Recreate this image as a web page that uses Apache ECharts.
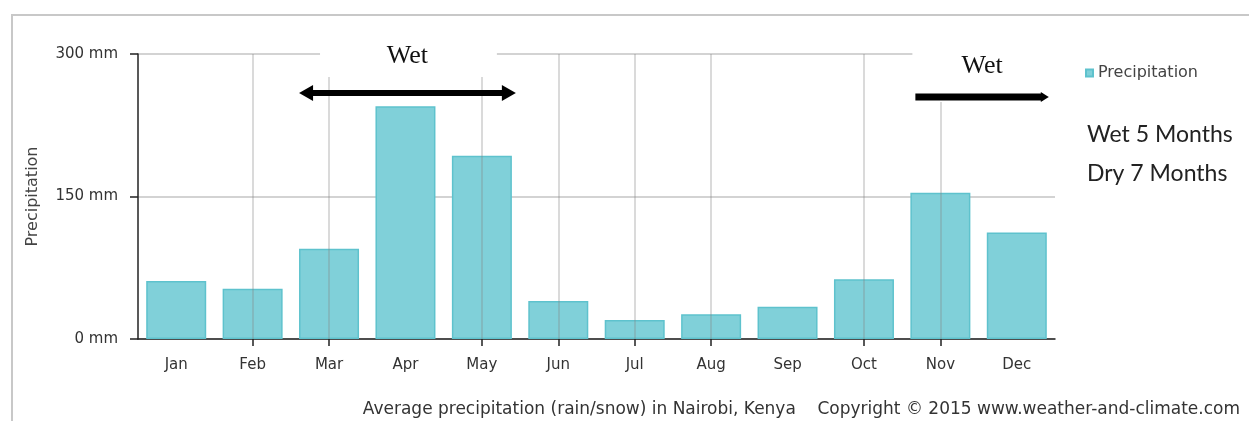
<!DOCTYPE html>
<html>
<head>
<meta charset="utf-8">
<script src="https://cdn.jsdelivr.net/npm/echarts@6/dist/echarts.min.js"></script>
<style>
  html, body { margin: 0; padding: 0; background: #fff; }
  #plot { width: 1249px; height: 421px; }
</style>
</head>
<body>
<div id="plot"></div>
<script>
"use strict";

// Monthly precipitation for Nairobi.
var months = ['Jan', 'Feb', 'Mar', 'Apr', 'May', 'Jun', 'Jul', 'Aug', 'Sep', 'Oct', 'Nov', 'Dec'];
var precipitation = [61, 53, 95, 245, 193, 40, 20, 26, 34, 63, 154, 112];
var yTicks = [0, 150, 300];
// Months that carry a tick and a vertical grid line in the original.
var tickedMonths = ['Feb', 'Mar', 'May', 'Jun', 'Jul', 'Aug', 'Oct', 'Nov'];
var wetSpans = [['Mar', 'May'], ['Nov', 'Dec']];

var chart = echarts.init(document.getElementById('plot'));

function hasTick(index, value) {
  return tickedMonths.indexOf(months[index]) >= 0;
}

var option = {
  backgroundColor: '#fff',
  animation: false,
  textStyle: { fontFamily: 'DejaVu Sans' },
  grid: { left: 138, right: 194, top: 54, bottom: 82 },
  legend: {
    left: 1080, top: 60,
    icon: 'rect', itemWidth: 7, itemHeight: 7, itemGap: 8,
    textStyle: { color: '#444', fontSize: 16 },
    data: ['Precipitation']
  },
  xAxis: {
    type: 'category',
    data: months,
    axisLine: { lineStyle: { color: '#222', width: 1.5 } },
    axisTick: { show: true, alignWithLabel: true, interval: hasTick, length: 7, lineStyle: { color: '#222', width: 1.5 } },
    axisLabel: { interval: 0, color: '#333', fontSize: 15, margin: 19 },
    splitLine: { show: false }
  },
  yAxis: {
    type: 'value',
    min: yTicks[0], max: yTicks[yTicks.length - 1], interval: 150,
    name: 'Precipitation',
    nameLocation: 'middle', nameGap: 97, nameRotate: 90,
    nameTextStyle: { color: '#444', fontSize: 16 },
    axisLine: { show: true, lineStyle: { color: '#222', width: 1.5 } },
    axisTick: { show: true, length: 8, lineStyle: { color: '#222', width: 1.5 } },
    axisLabel: { color: '#333', fontSize: 15, margin: 20, formatter: '{value} mm' },
    splitLine: { show: true, lineStyle: { color: '#c4c4c4', width: 1.5 } }
  },
  series: [{
    name: 'Precipitation',
    type: 'bar',
    barWidth: 60,
    data: precipitation,
    itemStyle: { color: '#80d0d9', borderColor: '#5ec2cd', borderWidth: 1.5 },
    // vertical grid lines through the centre of the ticked months
    markLine: {
      silent: true,
      symbol: 'none',
      label: { show: false },
      lineStyle: { type: 'solid', color: 'rgba(130,130,130,0.4)', width: 1.5 },
      data: tickedMonths.map(function (m) { return { xAxis: m }; })
    }
  }]
};
chart.setOption(option);

// Annotations placed from the axis positions of the wet months.
var half = 30;
function px(month) { return chart.convertToPixel({ xAxisIndex: 0 }, month); }
var yTop = chart.convertToPixel({ yAxisIndex: 0 }, 300);

var x1a = px(wetSpans[0][0]) - half, x1b = px(wetSpans[0][1]) + half + 4;
var x2a = px(wetSpans[1][0]) - half + 5, x2b = px(wetSpans[1][1]) + half + 2;

var graphics = [
  // outer frame of the picture
  { type: 'rect', shape: { x: 12, y: 15, width: 1300, height: 500 }, style: { fill: 'none', stroke: '#c8c8c8', lineWidth: 2 }, z: 1 },
  // white patches behind the "Wet" labels
  { type: 'rect', shape: { x: x1a + 21, y: yTop - 20, width: x1b - x1a - 40, height: 43 }, style: { fill: '#fff' }, z: 10 },
  { type: 'rect', shape: { x: x2a - 3, y: yTop - 20, width: x2b - x2a + 20, height: 68 }, style: { fill: '#fff' }, z: 10 },
  { type: 'text', style: { x: (x1a + x1b) / 2, y: yTop + 2, text: 'Wet', fill: '#111', font: '26px "Liberation Serif"', align: 'center', verticalAlign: 'middle' }, z: 11 },
  { type: 'text', style: { x: (x2a + x2b) / 2, y: yTop + 12, text: 'Wet', fill: '#111', font: '26px "Liberation Serif"', align: 'center', verticalAlign: 'middle' }, z: 11 },
  // left double arrow
  { type: 'line', shape: { x1: x1a + 8, y1: yTop + 39, x2: x1b - 8, y2: yTop + 39 }, style: { stroke: '#000', lineWidth: 6 }, z: 11 },
  { type: 'polygon', shape: { points: [[x1a, yTop + 39], [x1a + 14, yTop + 31], [x1a + 14, yTop + 47]] }, style: { fill: '#000' }, z: 11 },
  { type: 'polygon', shape: { points: [[x1b, yTop + 39], [x1b - 14, yTop + 31], [x1b - 14, yTop + 47]] }, style: { fill: '#000' }, z: 11 },
  // right bar with a small head
  { type: 'line', shape: { x1: x2a, y1: yTop + 43, x2: x2b - 6, y2: yTop + 43 }, style: { stroke: '#000', lineWidth: 7 }, z: 11 },
  { type: 'polygon', shape: { points: [[x2b, yTop + 43], [x2b - 8, yTop + 38], [x2b - 8, yTop + 48]] }, style: { fill: '#000' }, z: 11 },
  // side note
  { type: 'text', style: { x: 1087, y: 135, text: 'Wet 5 Months', fill: '#222', font: '23px Lato', verticalAlign: 'middle' }, z: 11 },
  { type: 'text', style: { x: 1087, y: 174, text: 'Dry 7 Months', fill: '#222', font: '23px Lato', verticalAlign: 'middle' }, z: 11 },
  // caption
  { type: 'text', style: { x: 1240, y: 410, text: 'Average precipitation (rain/snow) in Nairobi, Kenya    Copyright \u00a9 2015 www.weather-and-climate.com', fill: '#333', font: '17px "DejaVu Sans"', align: 'right', verticalAlign: 'middle' }, z: 11 }
];
chart.setOption({ graphic: graphics });
</script>
</body>
</html>
